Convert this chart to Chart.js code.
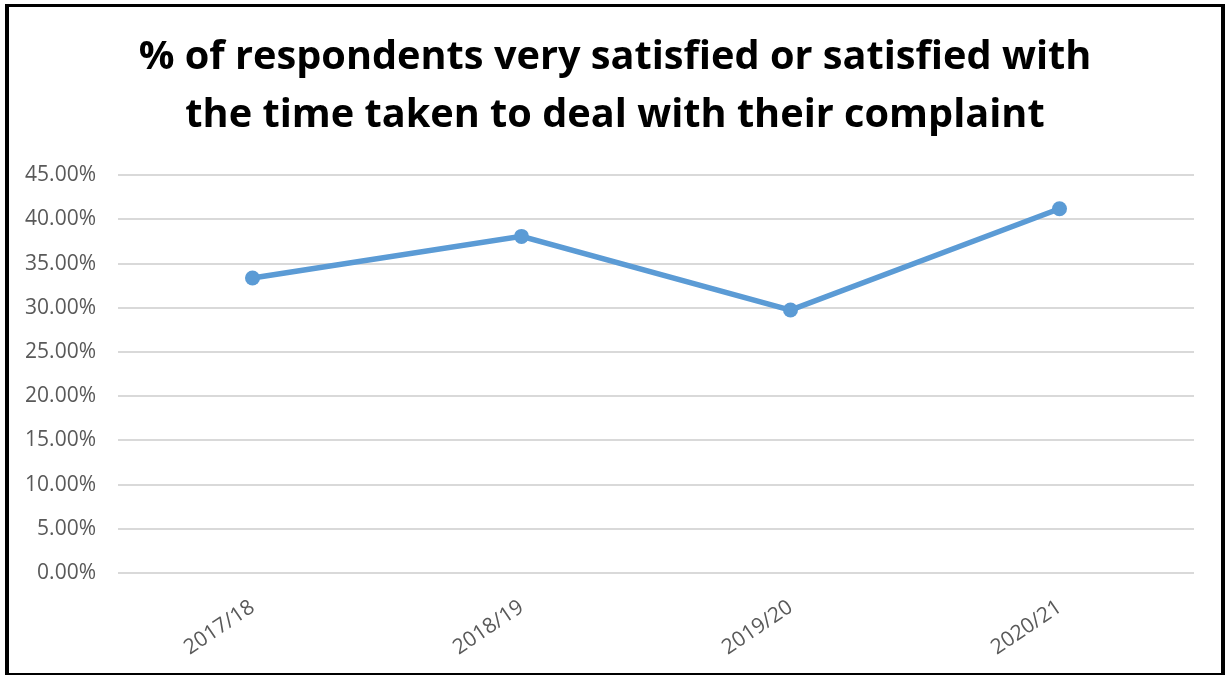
<!DOCTYPE html>
<html>
<head>
<meta charset="utf-8">
<script src="https://cdn.jsdelivr.net/npm/chart.js@4.4.0/dist/chart.umd.min.js"></script>
<style>
  html, body { margin: 0; padding: 0; background: #fff; }
  #frame {
    position: absolute; left: 5px; top: 4px;
    width: 1212px; height: 666px;
    border-style: solid; border-color: #000;
    border-width: 3px 4px 2px 4px;
  }
  #wrap { position: relative; width: 1212px; height: 666px; }
</style>
</head>
<body>
<div id="frame"><div id="wrap"><canvas id="satChart"></canvas></div></div>
<script>
// data
const years = ['2017/18', '2018/19', '2019/20', '2020/21'];
const satisfied = [33.37, 38.07, 29.74, 41.2];
const titleLines = ['% of respondents very satisfied or satisfied with', 'the time taken to deal with their complaint'];

const tickColor = '#595959';

const ctx = document.getElementById('satChart').getContext('2d');

const data = {
    labels: years,
    datasets: [{
        label: 'Satisfied',
        data: satisfied,
        borderColor: '#5B9BD5',
        backgroundColor: '#5B9BD5',
        borderWidth: 5.5,
        pointRadius: 7.5,
        pointBorderWidth: 0,
        tension: 0,
        fill: false
    }]
};

const config = {
    type: 'line',
    data: data,
    options: {
        responsive: true,
        maintainAspectRatio: false,
        animation: false,
        layout: {
            padding: 0
        },
        plugins: {
            legend: { display: false },
            tooltip: { enabled: false },
            title: {
                display: true,
                text: titleLines,
                color: '#000',
                font: { family: 'Open Sans', size: 39.7, weight: 'bold', lineHeight: 1.45 },
                padding: { top: 22, bottom: 31 }
            }
        },
        scales: {
            x: {
                offset: true,
                grid: { display: false, drawTicks: false },
                border: { display: false },
                ticks: {
                    color: tickColor,
                    font: { family: 'Open Sans', size: 21 },
                    minRotation: 34,
                    maxRotation: 34,
                    padding: 22
                },
                // keep room on the right via the scale padding, so the title stays centred on the frame
                afterFit: (s) => { s.height = 100; s.paddingRight = 27; }
            },
            y: {
                min: 0,
                max: 45,
                grid: { color: '#D9D9D9', lineWidth: 2, drawTicks: false },
                border: { display: false },
                ticks: {
                    stepSize: 5,
                    color: tickColor,
                    font: { family: 'Open Sans', size: 21 },
                    padding: 22,
                    callback: (v) => v.toFixed(2) + '%'
                },
                afterFit: (s) => { s.width = 109; }
            }
        }
    }
};

const satChart = new Chart(ctx, config);
</script>
</body>
</html>
